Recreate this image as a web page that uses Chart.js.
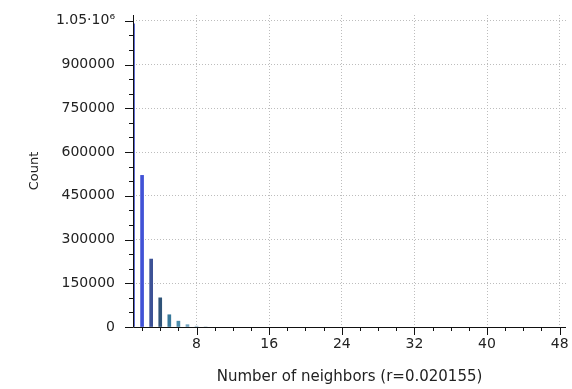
<!DOCTYPE html>
<html>
<head>
<meta charset="utf-8">
<script src="https://cdn.jsdelivr.net/npm/chart.js@4.4.1/dist/chart.umd.min.js"></script>
<style>
  html, body { margin: 0; padding: 0; background: #fff; }
  #wrap { width: 572px; height: 389px; }
</style>
</head>
<body>
<div id="wrap"><canvas id="neighborsChart"></canvas></div>
<script>
// values
const neighbors = [1, 2, 3, 4, 5, 6, 7, 8, 9];
const counts = [1040000, 520000, 233000, 100000, 42000, 20000, 8000, 3000, 1000];
const barColors = ['#3a4cc8', '#4152d6', '#3d5296', '#2f5378', '#37789a', '#4a8cab', '#73a4bf', '#a9c4d3', '#d3e0e6'];
const xMajorTicks = [8, 16, 24, 32, 40, 48];
const yMajorTicks = [0, 150000, 300000, 450000, 600000, 750000, 900000, 1050000];

const FONT = { family: 'DejaVu Sans', size: 14 };

// minor ticks + black axes drawn on top of the bars
const axesPlugin = {
    id: 'axesPlugin',
    afterDatasetsDraw(chart) {
        const c = chart.ctx, xs = chart.scales.x, ys = chart.scales.y, a = chart.chartArea;
        c.save();
        c.strokeStyle = '#111';
        c.lineWidth = 1;
        c.beginPath();
        c.moveTo(a.left + 0.5, a.top);
        c.lineTo(a.left + 0.5, a.bottom + 0.5);
        c.lineTo(a.right, a.bottom + 0.5);
        xs.ticks.forEach(t => {
            const px = Math.round(xs.getPixelForValue(t.value)) + 0.5;
            const len = xMajorTicks.includes(t.value) ? 8 : 4;
            c.moveTo(px, a.bottom);
            c.lineTo(px, a.bottom + len);
        });
        ys.ticks.forEach(t => {
            const py = Math.round(ys.getPixelForValue(t.value)) + 0.5;
            const len = yMajorTicks.includes(t.value) ? 8 : 4;
            c.moveTo(a.left, py);
            c.lineTo(a.left - len, py);
        });
        c.stroke();
        c.restore();
    }
};

const isMajorX = c => c.tick && xMajorTicks.includes(c.tick.value);
const isMajorY = c => c.tick && c.tick.value > 0 && yMajorTicks.includes(c.tick.value);

const ctx = document.getElementById('neighborsChart').getContext('2d');
const neighborsChart = new Chart(ctx, {
    type: 'bar',
    data: {
        datasets: [{
            data: neighbors.map((n, i) => ({ x: n, y: counts[i] })),
            backgroundColor: barColors,
            barThickness: 3
        }]
    },
    options: {
        responsive: true,
        maintainAspectRatio: false,
        animation: false,
        layout: { padding: { left: 0, right: 6, top: 15, bottom: 0 } },
        plugins: { legend: { display: false }, tooltip: { enabled: false } },
        scales: {
            x: {
                type: 'linear',
                offset: false,
                min: 1,
                max: 48.7,
                afterBuildTicks: s => {
                    const t = [];
                    for (let v = 2; v <= 48; v += 2) t.push({ value: v });
                    s.ticks = t;
                },
                afterFit: s => { s.height = 62; s.paddingLeft = 0; s.paddingRight = 0; },
                border: { display: false, dash: [1, 2] },
                grid: {
                    offset: false,
                    drawTicks: false,
                    color: c => isMajorX(c) ? '#bdbdbd' : 'rgba(0,0,0,0)',
                    lineWidth: 1
                },
                ticks: {
                    autoSkip: false,
                    maxRotation: 0,
                    padding: 9,
                    color: '#222',
                    font: FONT,
                    callback: v => xMajorTicks.includes(v) ? String(v) : ''
                },
                title: {
                    display: true,
                    text: 'Number of neighbors (r=0.020155)',
                    color: '#222',
                    font: { family: 'DejaVu Sans', size: 15 },
                    padding: { top: 0, bottom: 3 }
                }
            },
            y: {
                min: 0,
                max: 1070000,
                afterBuildTicks: s => {
                    const t = [];
                    for (let v = 0; v <= 1050000; v += 50000) t.push({ value: v });
                    s.ticks = t;
                },
                afterFit: s => { s.width = 133; s.paddingTop = 0; s.paddingBottom = 0; },
                border: { display: false, dash: [1, 2] },
                grid: {
                    drawTicks: false,
                    color: c => isMajorY(c) ? '#bdbdbd' : 'rgba(0,0,0,0)',
                    lineWidth: 1
                },
                ticks: {
                    autoSkip: false,
                    padding: 18,
                    color: '#222',
                    font: FONT,
                    callback: v => {
                        if (!yMajorTicks.includes(v)) return '';
                        return v === 1050000 ? '1.05\u00b710\u2076' : String(v);
                    }
                },
                title: {
                    display: true,
                    text: 'Count',
                    color: '#222',
                    font: { family: 'DejaVu Sans', size: 13 },
                    padding: { top: 27, bottom: 0 }
                }
            }
        }
    },
    plugins: [axesPlugin]
});
</script>
</body>
</html>
